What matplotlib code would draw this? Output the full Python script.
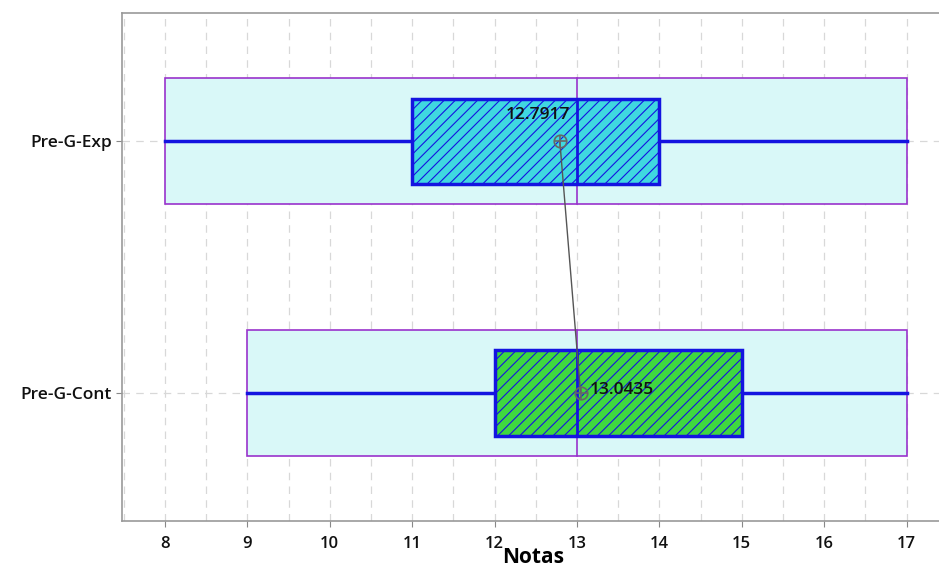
import matplotlib.pyplot as plt
from matplotlib.patches import Rectangle
import numpy as np

plt.rcParams['font.family'] = ['Open Sans', 'DejaVu Sans']
plt.rcParams['hatch.linewidth'] = 0.8

grupos = ['Pre-G-Cont', 'Pre-G-Exp']
minimos = [9, 8]
q1 = [12, 11]
medianas = [13, 13]
q3 = [15, 14]
maximos = [17, 17]
medias = [13.0435, 12.7917]
cores_caixa = ['#3fd83f', '#3fd8e0']

fig = plt.figure(figsize=(9.39, 5.70), dpi=100)
ax = fig.add_axes([0.130, 0.086, 0.875, 0.891])

pos = np.arange(1, len(grupos) + 1)
for i, y in enumerate(pos):
    # faixa min-max
    ax.add_patch(Rectangle((minimos[i], y - 0.25), maximos[i] - minimos[i], 0.5,
                           facecolor='#d9f8f8', edgecolor='#9933cc', lw=1.2, zorder=2))
    # bigodes
    ax.plot([minimos[i], q1[i]], [y, y], color='#1414e0', lw=2.5, zorder=3)
    ax.plot([q3[i], maximos[i]], [y, y], color='#1414e0', lw=2.5, zorder=3)
    # linha da mediana (roxa, faixa inteira)
    ax.plot([medianas[i], medianas[i]], [y - 0.25, y + 0.25], color='#9933cc', lw=1.2, zorder=3)
    # caixa interquartil
    ax.add_patch(Rectangle((q1[i], y - 0.169), q3[i] - q1[i], 0.338,
                           facecolor=cores_caixa[i], edgecolor='#1414e0', lw=2.5,
                           hatch='///', zorder=4))
    ax.plot([medianas[i], medianas[i]], [y - 0.169, y + 0.169], color='#1414e0', lw=2, zorder=5)

# medias
ax.plot(medias, pos, color='#555555', lw=1, zorder=6)
ax.plot(medias, pos, 'o', ms=9, mfc='none', mec='#666666', mew=1.2, zorder=7)
ax.plot(medias, pos, '+', ms=9, mec='#666666', mew=1.2, zorder=7)

ax.text(medias[1] + 0.13, pos[1] + 0.105, f'{medias[1]:.4f}', ha='right', va='center',
        fontsize=12.5, fontweight='semibold', color='#111111', zorder=8)
ax.text(medias[0] + 0.11, pos[0] + 0.01, f'{medias[0]:.4f}', ha='left', va='center',
        fontsize=12.5, fontweight='semibold', color='#111111', zorder=8)

ax.set_xlim(7.48, 17.45)
ax.set_ylim(0.492, 2.508)
ax.set_yticks(pos)
ax.set_yticklabels(grupos, fontsize=12.5, fontweight='semibold')
ax.set_xticks(np.arange(8, 18))
ax.set_xticks(np.arange(7.5, 17.5, 0.5), minor=True)
ax.tick_params(axis='x', which='minor', length=0)
ax.tick_params(axis='both', which='major', colors='#888888', labelcolor='#111111', length=4)
ax.tick_params(axis='x', pad=7)
for lab in ax.get_xticklabels():
    lab.set_fontsize(12)
    lab.set_fontweight('semibold')
ax.grid(True, axis='x', which='both', ls=(0, (6, 5)), color='#d8d8d8', lw=0.9, zorder=0)
ax.grid(True, axis='y', ls=(0, (6, 5)), color='#d8d8d8', lw=0.9, zorder=0)
ax.set_axisbelow(True)
ax.set_xlabel('Notas', fontsize=15, fontweight='bold', labelpad=-4)
for s in ax.spines.values():
    s.set_color('#999999')
    s.set_linewidth(1.2)
ax.spines['right'].set_visible(False)

fig.savefig('out.png', dpi=100)
